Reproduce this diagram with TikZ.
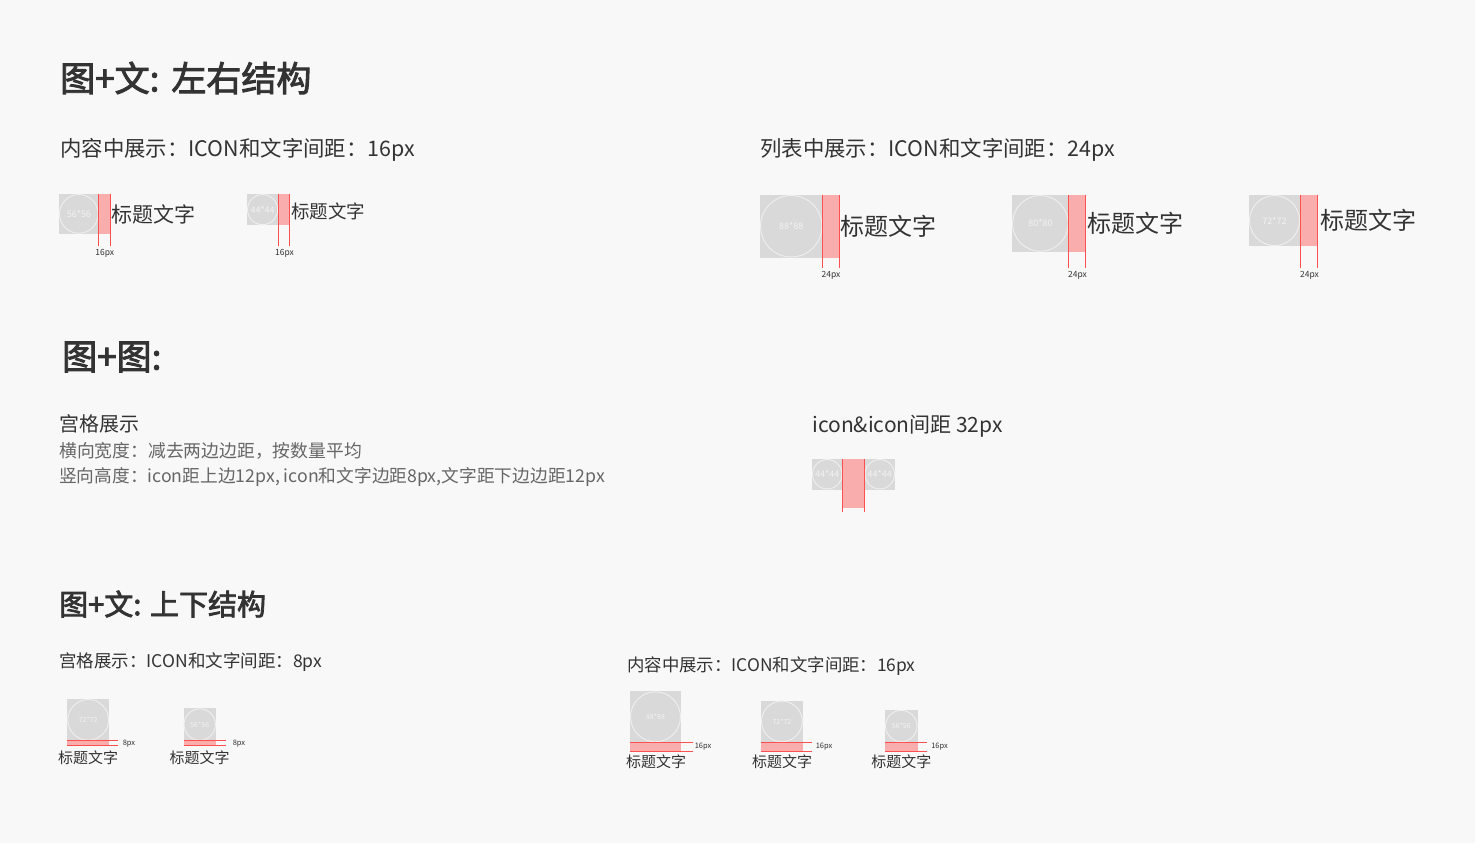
\documentclass[tikz,border=0pt]{standalone}
\usepackage{fontspec}
\setmainfont{Noto Sans CJK SC}
\newfontfamily\headfont{Noto Sans CJK SC}[FakeBold=2.6]
\usetikzlibrary{calc}
\definecolor{bg}{HTML}{F8F8F8}
\definecolor{icongray}{HTML}{D9D9D9}
\definecolor{iconline}{HTML}{EFEFEF}
\definecolor{iconlbl}{HTML}{F2F2F2}
\definecolor{redfill}{HTML}{F9ADAD}
\definecolor{redln}{HTML}{FF4F4F}
\definecolor{txt}{HTML}{333333}
\definecolor{txtgray}{HTML}{666666}
\newcommand\fs[1]{\fontsize{\fpeval{#1*0.75}pt}{\fpeval{#1*0.9}pt}\selectfont}
\tikzset{
  iconbox/.style={fill=icongray, draw=none, inner sep=0pt, outer sep=0pt, rectangle},
  iconcirc/.style={circle, draw=iconline, line width=0.7pt, inner sep=0pt, text=iconlbl},
  redarea/.style={fill=redfill},
  redline/.style={draw=redln, line width=0.8pt},
  lbl/.style={inner sep=0pt, text=txt},
  head/.style={lbl, anchor=west, font=\headfont\fs{35}},
  sub/.style={lbl, anchor=west, font=\fs{21.4}},
  dim/.style={lbl, font=\fs{8.5}},
}
% #1 name, #2 left, #3 top, #4 size px, #5 label, #6 label font px
\newcommand\iconnode[6]{%
  \node[iconbox, minimum size=#4*0.75pt, anchor=north west] (#1) at (#2,#3) {};
  \node[iconcirc, minimum size=#4*0.75pt-0.8pt, font=\fs{#6}] (#1c) at (#1.center) {#5};
}
\begin{document}
\begin{tikzpicture}[x=0.75pt, y=-0.75pt]
\fill[bg] (0,0) rectangle (1475,843);
\useasboundingbox (0,0) rectangle (1475,843);

% ---------- Section 1 ----------
\node[head] (h1) at (60,78) {图+文:\hspace{9pt}左右结构};
\node[sub] (s1) at (60,150) {内容中展示：ICON和文字间距：16px};
\node[sub] (s2) at (760,150) {列表中展示：ICON和文字间距：24px};

% left row
\iconnode{a1}{59}{194}{39.8}{56*56}{9}
\fill[redarea] (a1.north east) rectangle ++(11.4,39.8);
\draw[redline] (a1.north east) -- ++(0,52);
\draw[redline] (a1.north east) ++(11.4,0) -- ++(0,52);
\node[dim] (a1d) at (104.8,253) {16px};
\node[lbl, anchor=west, font=\fs{21}] (a1t) at (111,214.5) {标题文字};

\iconnode{a2}{247}{194}{31.2}{44*44}{9}
\fill[redarea] (a2.north east) rectangle ++(11.4,31.2);
\draw[redline] (a2.north east) -- ++(0,52);
\draw[redline] (a2.north east) ++(11.4,0) -- ++(0,52);
\node[dim] (a2d) at (284.5,253) {16px};
\node[lbl, anchor=west, font=\fs{18.5}] (a2t) at (291,211) {标题文字};

% right row
\iconnode{b1}{760}{195}{62.5}{88*88}{9}
\fill[redarea] (b1.north east) rectangle ++(17,62.5);
\draw[redline] (b1.north east) -- ++(0,73);
\draw[redline] (b1.north east) ++(17,0) -- ++(0,73);
\node[dim] (b1d) at (831,275) {24px};
\node[lbl, anchor=west, font=\fs{24}] (b1t) at (840,226) {标题文字};

\iconnode{b2}{1012}{195}{56.8}{80*80}{9}
\fill[redarea] (b2.north east) rectangle ++(17,56.8);
\draw[redline] (b2.north east) -- ++(0,73);
\draw[redline] (b2.north east) ++(17,0) -- ++(0,73);
\node[dim] (b2d) at (1077.5,275) {24px};
\node[lbl, anchor=west, font=\fs{24}] (b2t) at (1087,223) {标题文字};

\iconnode{b3}{1249}{195}{51.1}{72*72}{9}
\fill[redarea] (b3.north east) rectangle ++(17,51.1);
\draw[redline] (b3.north east) -- ++(0,73);
\draw[redline] (b3.north east) ++(17,0) -- ++(0,73);
\node[dim] (b3d) at (1309.5,275) {24px};
\node[lbl, anchor=west, font=\fs{24}] (b3t) at (1320,220) {标题文字};

% ---------- Section 2 ----------
\node[head] (h2) at (62,357) {图+图:};
\node[lbl, anchor=west, font=\fs{20}] (t1) at (59,424) {宫格展示};
\node[lbl, anchor=west, font=\fs{17.8}, text=txtgray] (t2) at (59,451) {横向宽度：减去两边边距，按数量平均};
\node[lbl, anchor=west, font=\fs{17.7}, text=txtgray] (t3) at (59,477) {竖向高度：icon距上边12px, icon和文字边距8px,文字距下边边距12px};
\node[lbl, anchor=west, font=\fs{21}] (t4) at (812,426) {icon\&icon间距 32px};

\iconnode{c1}{812}{459}{30.5}{44*44}{9}
\fill[redarea] (c1.north east) rectangle ++(22,49);
\iconnode{c2}{864.5}{459}{30.5}{44*44}{9}
\draw[redline] (c1.north east) -- ++(0,52.5);
\draw[redline] (c2.north west) -- ++(0,52.5);

% ---------- Section 3 ----------
\node[lbl, anchor=west, font=\headfont\fs{29}] (h3) at (59,604) {图+文: 上下结构};
\node[lbl, anchor=west, font=\fs{17.5}] (u1) at (59,662) {宫格展示：ICON和文字间距：8px};
\node[lbl, anchor=west, font=\fs{17.4}] (u2) at (627,666) {内容中展示：ICON和文字间距：16px};

% 8px group
\iconnode{d1}{67.3}{699}{41.8}{72*72}{7}
\fill[redarea] (d1.south west) rectangle ++(41.8,4.6);
\draw[redline] (d1.south west) -- ++(50.7,0);
\draw[redline] (d1.south west) ++(0,4.6) -- ++(50.7,0);
\node[dim, anchor=west, font=\fs{7.5}] (d1d) at (122.5,743.5) {8px};
\node[lbl, font=\fs{15}] (d1t) at (88.2,757.5) {标题文字};

\iconnode{d2}{183.5}{708.3}{32.5}{56*56}{7}
\fill[redarea] (d2.south west) rectangle ++(32.5,4.6);
\draw[redline] (d2.south west) -- ++(42.2,0);
\draw[redline] (d2.south west) ++(0,4.6) -- ++(42.2,0);
\node[dim, anchor=west, font=\fs{7.5}] (d2d) at (232.5,743.5) {8px};
\node[lbl, font=\fs{15}] (d2t) at (199.7,757.5) {标题文字};

% 16px group
\iconnode{e1}{630}{691.3}{51}{88*88}{7}
\fill[redarea] (e1.south west) rectangle ++(51,9.3);
\draw[redline] (e1.south west) -- ++(62.7,0);
\draw[redline] (e1.south west) ++(0,9.3) -- ++(62.7,0);
\node[dim, anchor=west, font=\fs{7.5}] (e1d) at (694.5,747) {16px};
\node[lbl, font=\fs{15}] (e1t) at (656,761.7) {标题文字};

\iconnode{e2}{761}{700.5}{41.8}{72*72}{7}
\fill[redarea] (e2.south west) rectangle ++(41.8,9.3);
\draw[redline] (e2.south west) -- ++(50.7,0);
\draw[redline] (e2.south west) ++(0,9.3) -- ++(50.7,0);
\node[dim, anchor=west, font=\fs{7.5}] (e2d) at (815.5,747) {16px};
\node[lbl, font=\fs{15}] (e2t) at (782,761.7) {标题文字};

\iconnode{e3}{885}{709.8}{32.5}{56*56}{7}
\fill[redarea] (e3.south west) rectangle ++(32.5,9.3);
\draw[redline] (e3.south west) -- ++(42.3,0);
\draw[redline] (e3.south west) ++(0,9.3) -- ++(42.3,0);
\node[dim, anchor=west, font=\fs{7.5}] (e3d) at (931,746.7) {16px};
\node[lbl, font=\fs{15}] (e3t) at (901.3,761.7) {标题文字};
\end{tikzpicture}
\end{document}
